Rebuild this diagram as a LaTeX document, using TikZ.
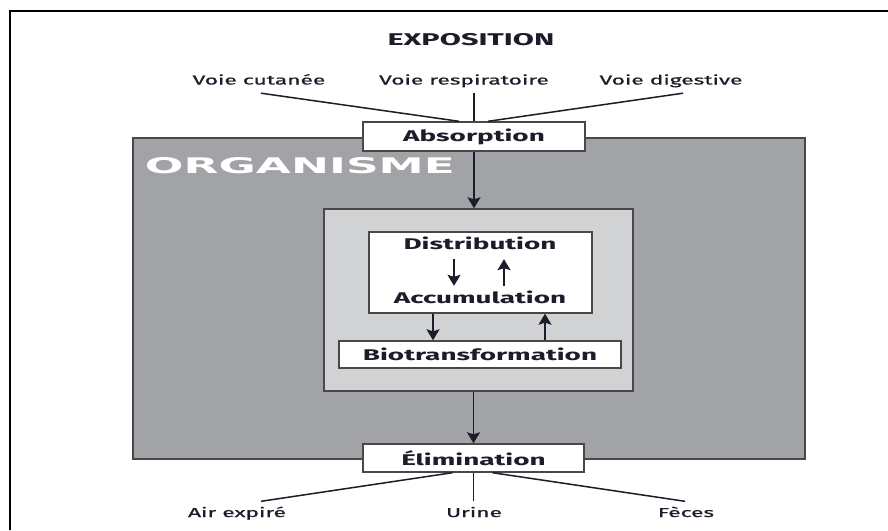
\documentclass[tikz,border=0pt]{standalone}
\usepackage{fontspec}
\usepackage{graphicx}
\setmainfont{Fira Sans}[FakeStretch=1.8]
\newfontfamily\lblfont{Fira Sans}[FakeStretch=1.75, FakeBold=0.8]
\newfontfamily\orgfont{DejaVu Sans}
\usetikzlibrary{arrows.meta}
\definecolor{ink}{HTML}{1C1C2A}
\definecolor{organ}{HTML}{A2A3A7}
\definecolor{innerfill}{HTML}{D1D2D4}
\definecolor{edge}{HTML}{484848}
\begin{document}
\begin{tikzpicture}[x=1pt,y=-1pt,
  box/.style={draw=edge, line width=1.4pt, fill=white, inner sep=0pt,
    font=\bfseries\fontsize{15.5}{15.5}\selectfont, text=ink},
  btxt/.style={inner xsep=0pt, inner ysep=7pt, text height=10pt, text depth=3pt,
    font=\bfseries\fontsize{15.5}{15.5}\selectfont, text=ink},
  lbl/.style={inner xsep=0pt, inner ysep=5.5pt, text height=10pt, text depth=3pt,
    font=\lblfont\fontsize{13}{13}\selectfont, text=ink},
  conn/.style={draw=ink, line width=1.5pt},
  arr/.style={conn, -{Stealth[width=13pt,length=11pt,inset=2pt]}}]
\useasboundingbox (0,0) rectangle (888,530);
\fill[white] (0,0) rectangle (888,530);
% frame
\draw[line width=1.8pt] (10,530) -- (10,11) -- (888,11);
% organisme
\node[draw=edge, fill=organ, line width=1.5pt, minimum width=672pt, minimum height=321pt, inner sep=0pt] (org) at (469,298.5) {};
\node[text=white, inner sep=0pt] (orglbl) at (300,166) {\resizebox{310pt}{16pt}{\orgfont\bfseries ORGANISME}};
% inner
\node[draw=edge, fill=innerfill, line width=1.4pt, minimum width=309pt, minimum height=182pt, inner sep=0pt] (inr) at (478.5,300) {};
\node[box, minimum width=223pt, minimum height=81pt] (wb) at (480.5,272.5) {};
\node[btxt] (dist) at (480,245.5) {Distribution};
\node[btxt] (acc) at (480,299.5) {Accumulation};
\node[box, minimum width=282pt, minimum height=27pt] (bio) at (480,354.5) {Biotransformation};
% top / bottom boxes
\node[box, minimum width=222pt, minimum height=29pt] (abs) at (474,136.5) {Absorption};
\node[box, minimum width=221pt, minimum height=28pt] (eli) at (473.5,458) {Élimination};
% texts
\node[font=\bfseries\fontsize{17}{17}\selectfont, text=ink, inner sep=0pt] (expo) at (471,39.5) {EXPOSITION};
\node[lbl] (vc) at (259,81) {Voie cutanée};
\node[lbl] (vr) at (464,81) {Voie respiratoire};
\node[lbl] (vd) at (671,81) {Voie digestive};
\node[lbl] (ae) at (237,513.5) {Air expiré};
\node[lbl] (ur) at (474,513.5) {Urine};
\node[lbl] (fe) at (686,513.5) {Fèces};
% connectors
\draw[conn] ([xshift=2pt]vc.south) -- ([xshift=-15pt]abs.north);
\draw[conn] (abs.north |- vr.south) -- (abs.north);
\draw[conn] ([xshift=12pt]vd.south) -- ([xshift=14pt]abs.north);
\draw[conn] ([xshift=-21pt]eli.south) -- ([xshift=24pt]ae.north);
\draw[conn] (eli.south) -- (eli.south |- ur.north);
\draw[conn] ([xshift=19pt]eli.south) -- ([xshift=-1pt]fe.north);
\draw[arr] (abs.south) -- (abs.south |- inr.north);
\draw[arr] (eli.north |- inr.south) -- (eli.north);
\draw[arr] ([xshift=-26pt]dist.south) -- ([xshift=-26pt]dist.south |- acc.north);
\draw[arr] ([xshift=24pt]acc.north) -- ([xshift=24pt]acc.north |- dist.south);
\draw[arr] ([xshift=-47.5pt]wb.south) -- ([xshift=-47.5pt]wb.south |- bio.north);
\draw[arr] ([xshift=64.5pt]wb.south |- bio.north) -- ([xshift=64.5pt]wb.south);
\end{tikzpicture}
\end{document}
